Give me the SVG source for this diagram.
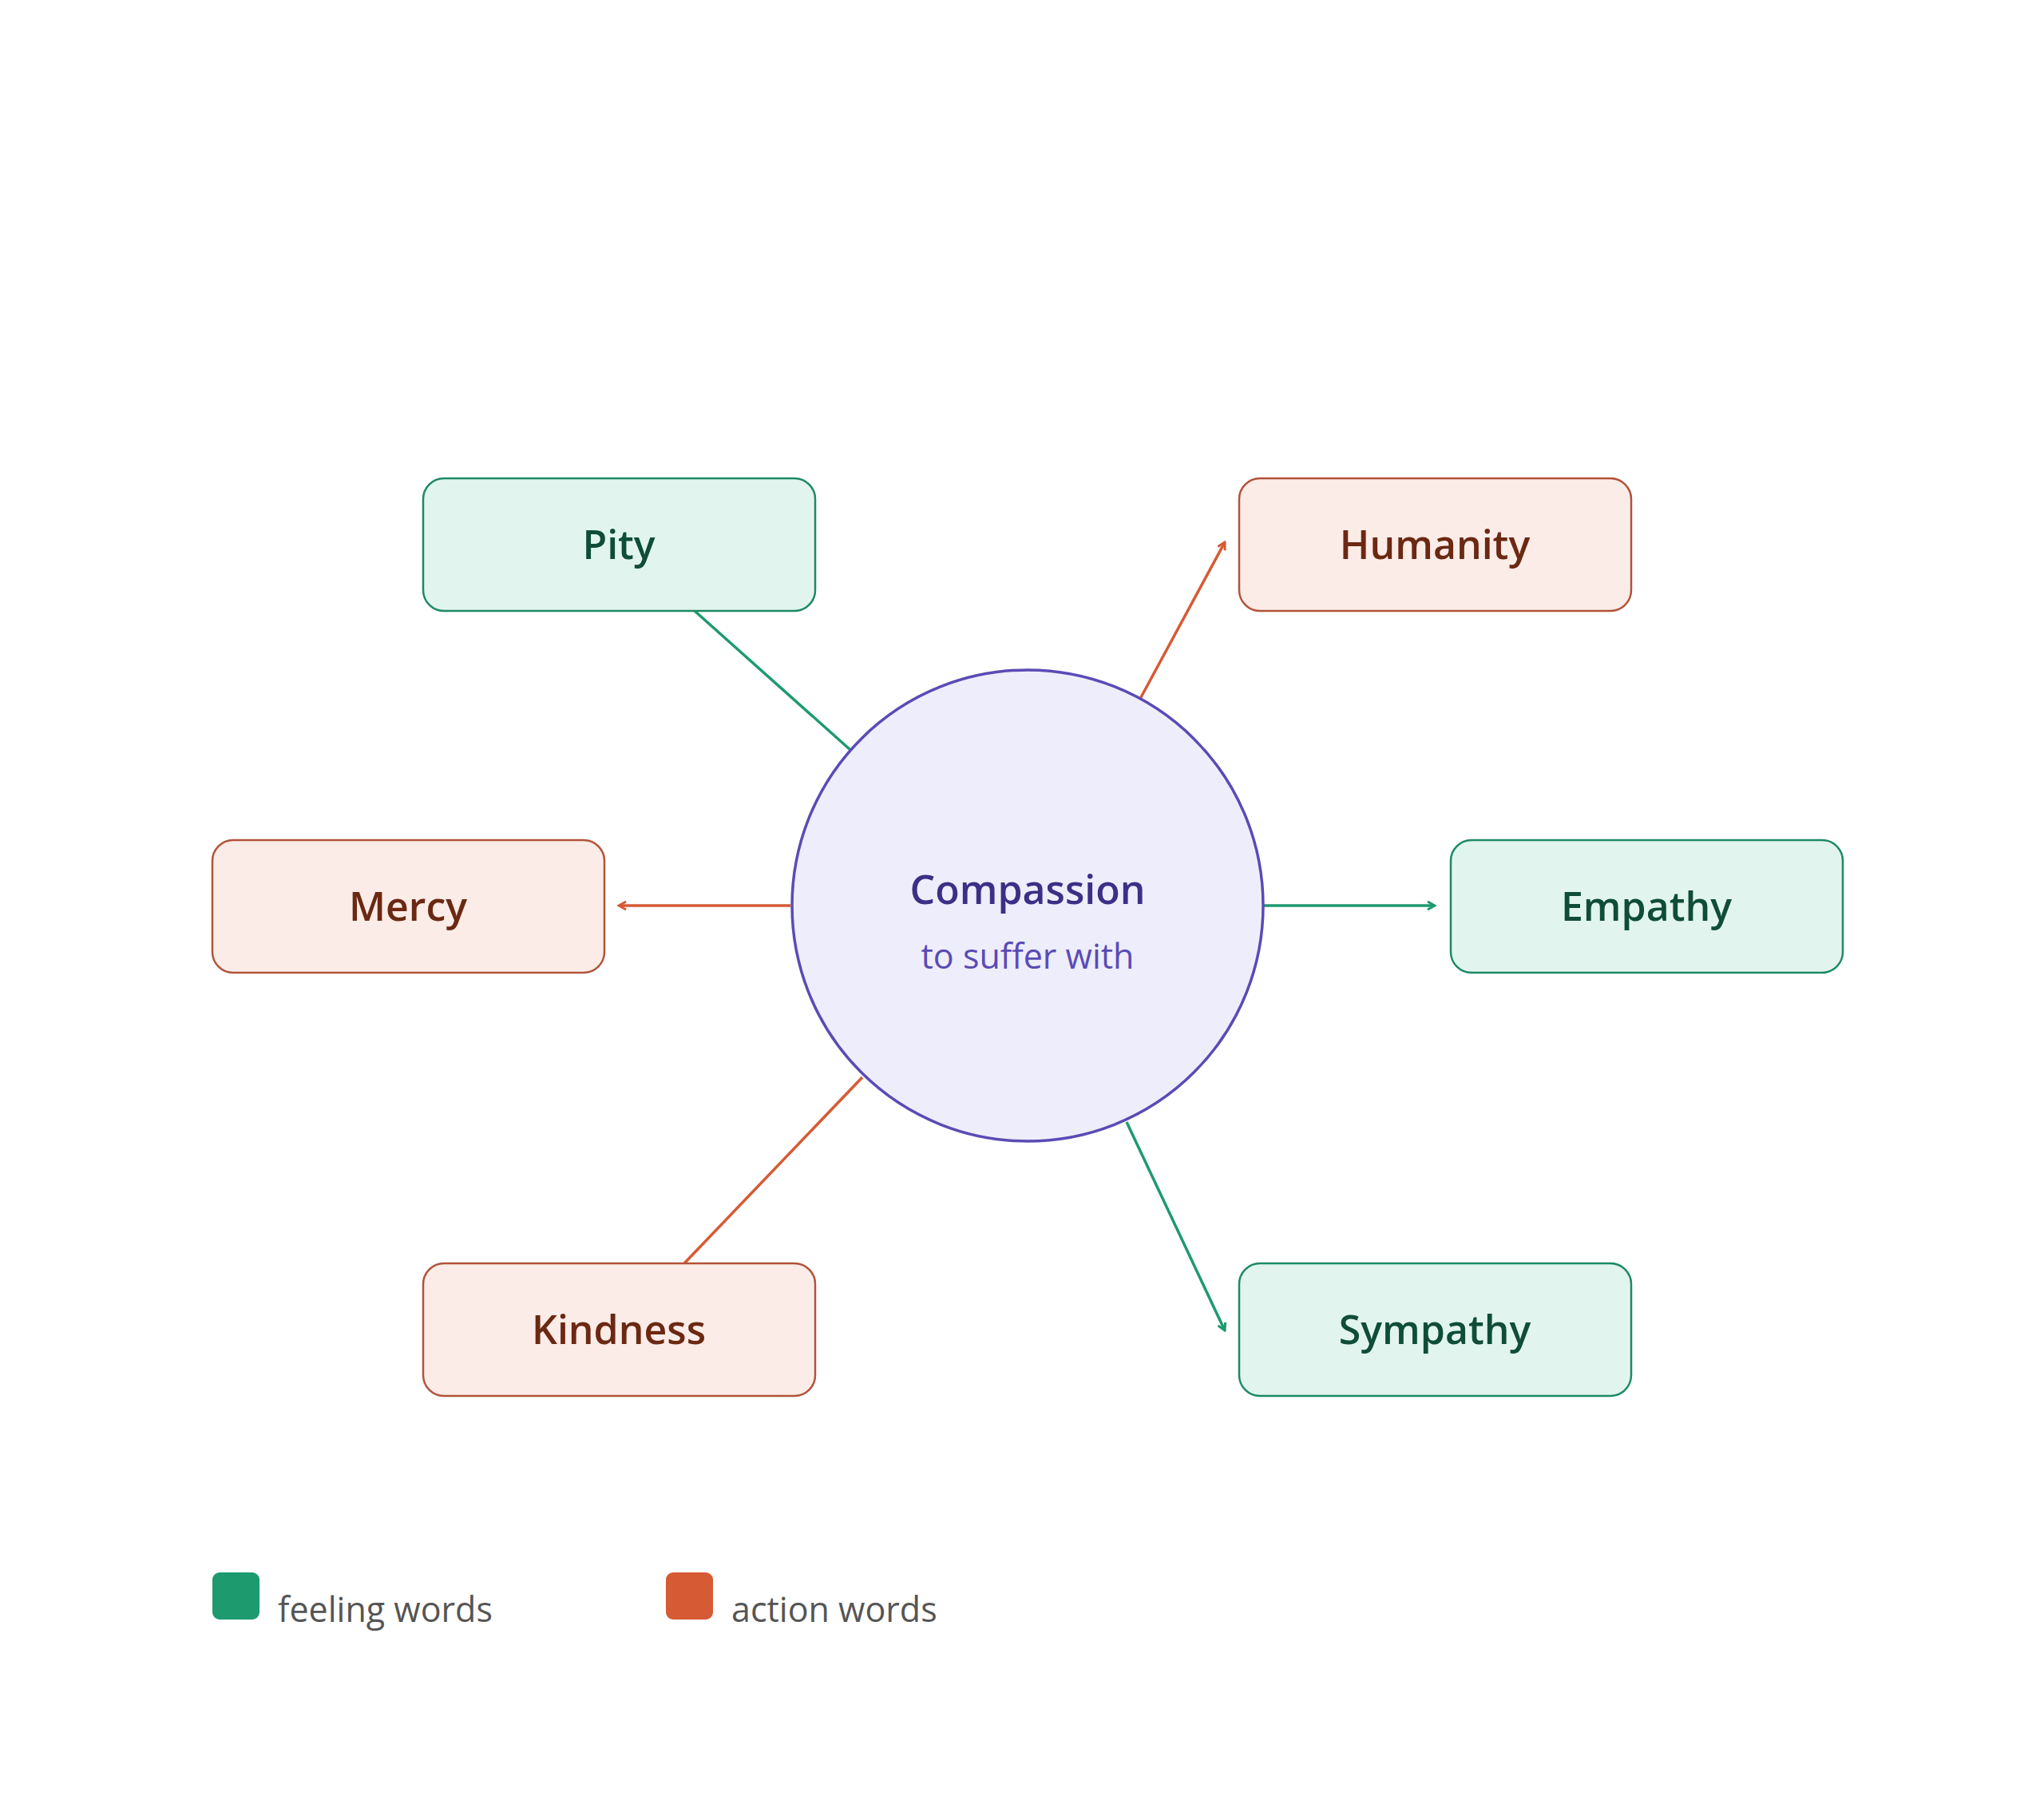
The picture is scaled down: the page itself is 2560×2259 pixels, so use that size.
<svg xmlns="http://www.w3.org/2000/svg" width="2560" height="2259" viewBox="0 0 2560 2259">
<style>
text{font-family:"Open Sans","Noto Sans",sans-serif;text-anchor:middle}
.g rect{fill:#e1f5ee;stroke:#1d8a63;stroke-width:2.5}
.o rect{fill:#fbece7;stroke:#b2533a;stroke-width:2.5}
.g text{fill:#0f4d38;font-size:50px;font-weight:600}
.o text{fill:#6b2812;font-size:50px;font-weight:600}
.lg{stroke:#1d9a6e;stroke-width:3.5;fill:none}
.lo{stroke:#d65a34;stroke-width:3.5;fill:none}
.leg{fill:#555;font-size:43px;text-anchor:start}
</style>
<defs>
<marker id="ag" markerWidth="12" markerHeight="12" refX="10" refY="6" orient="auto" markerUnits="userSpaceOnUse"><path d="M1,1 L10,6 L1,11" fill="none" stroke="#1d9a6e" stroke-width="3"/></marker>
<marker id="ao" markerWidth="12" markerHeight="12" refX="10" refY="6" orient="auto" markerUnits="userSpaceOnUse"><path d="M1,1 L10,6 L1,11" fill="none" stroke="#d65a34" stroke-width="3"/></marker>
</defs>
<rect width="2560" height="2259" fill="#fff"/>
<g id="connectors">
<line class="lg" x1="870" y1="765" x2="1065" y2="939"/>
<line class="lo" x1="1428" y1="875" x2="1534" y2="679" marker-end="url(#ao)"/>
<line class="lo" x1="990" y1="1134" x2="775" y2="1134" marker-end="url(#ao)"/>
<line class="lg" x1="1582" y1="1134" x2="1797" y2="1134" marker-end="url(#ag)"/>
<line class="lo" x1="1080" y1="1349" x2="857" y2="1582"/>
<line class="lg" x1="1411" y1="1405" x2="1534" y2="1666" marker-end="url(#ag)"/>
</g>
<g id="center">
<circle cx="1287" cy="1134" r="295" fill="#eeedfc" stroke="#5a4bb5" stroke-width="3.5"/>
<text x="1287" y="1132" font-size="50" font-weight="600" fill="#3c2f86">Compassion</text>
<text x="1287" y="1213" font-size="43" fill="#5a4bb5">to suffer with</text>
</g>
<g id="pity" class="g"><rect x="530" y="599" width="491" height="166" rx="26"/><text x="775" y="700">Pity</text></g>
<g id="humanity" class="o"><rect x="1552" y="599" width="491" height="166" rx="26"/><text x="1797" y="700">Humanity</text></g>
<g id="mercy" class="o"><rect x="266" y="1052" width="491" height="166" rx="26"/><text x="511" y="1153">Mercy</text></g>
<g id="empathy" class="g"><rect x="1817" y="1052" width="491" height="166" rx="26"/><text x="2062" y="1153">Empathy</text></g>
<g id="kindness" class="o"><rect x="530" y="1582" width="491" height="166" rx="26"/><text x="775" y="1683">Kindness</text></g>
<g id="sympathy" class="g"><rect x="1552" y="1582" width="491" height="166" rx="26"/><text x="1797" y="1683">Sympathy</text></g>
<g id="legend">
<rect x="266" y="1969" width="59" height="59" rx="9" fill="#1d9a6e"/>
<text class="leg" x="348" y="2031">feeling words</text>
<rect x="834" y="1969" width="59" height="59" rx="9" fill="#d65a34"/>
<text class="leg" x="916" y="2031">action words</text>
</g>
</svg>
